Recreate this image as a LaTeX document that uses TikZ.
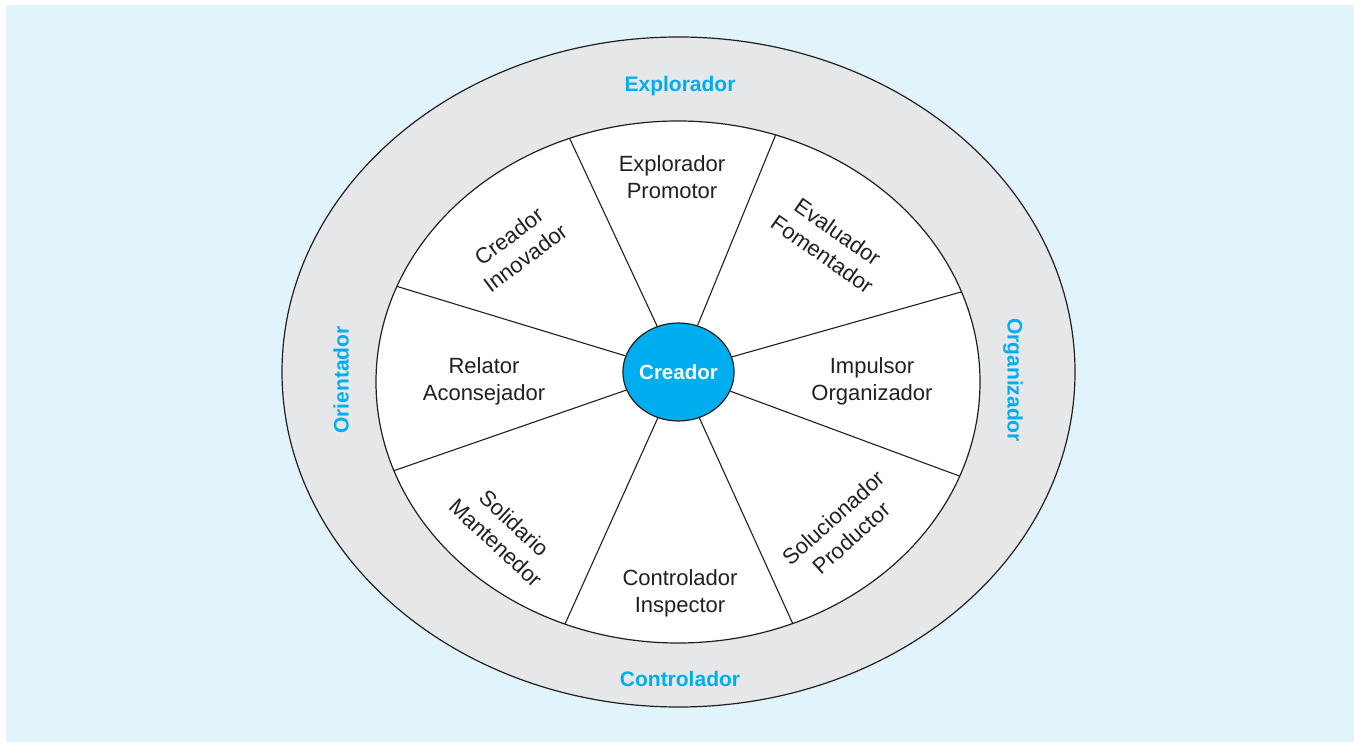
\documentclass[tikz,border=0pt]{standalone}
\usepackage{fontspec}
\setmainfont{Liberation Sans}
\usetikzlibrary{shapes.geometric}
\definecolor{paper}{HTML}{E1F4FB}
\definecolor{ring}{HTML}{E6E7E8}
\definecolor{cyan}{HTML}{00AEEF}
\definecolor{ink}{HTML}{231F20}

\begin{document}
\begin{tikzpicture}[
  x=1pt, y=1pt,
  rim/.style={draw=ink, line width=1.2pt},
  spoke/.style={draw=ink, line width=1.1pt},
  role/.style={text=ink, align=center, font=\fontsize{22}{27}\selectfont},
  group/.style={text=cyan, font=\fontsize{21}{25}\selectfont\bfseries},
  hub/.style={ellipse, rim, fill=cyan, inner sep=0pt, minimum width=111, minimum height=98, text=white, font=\fontsize{20.5}{24}\selectfont\bfseries}
]
\useasboundingbox (0,0) rectangle (1354,742);
\fill[white] (0,0) rectangle (1354,742);
\fill[paper] (6,0) rectangle (1354,737);

% outer ring and inner wheel
\draw[rim, fill=ring] (678.5,370) ellipse [x radius=396.5, y radius=335];
\fill[white] (678,360) ellipse [x radius=302, y radius=261];

\node[hub] (core) at (678.5,370) {Creador};

% spoke ends, a little past the wheel rim
\coordinate (e1) at (560.2,623.8);
\coordinate (e2) at (783.8,627);
\coordinate (e3) at (983.6,456.4);
\coordinate (e4) at (984.7,256.6);
\coordinate (e5) at (801.1,100);
\coordinate (e6) at (555.9,97.8);
\coordinate (e7) at (373.4,264.2);
\coordinate (e8) at (376.6,461.8);

\begin{scope}
  \clip (678,360) ellipse [x radius=302, y radius=261];
  \draw[spoke] (core) -- (e1);
  \draw[spoke] (core) -- (e2);
  \draw[spoke] (core) -- (e3);
  \draw[spoke] (core) -- (e4);
  \draw[spoke] (core) -- (e5);
  \draw[spoke] (core) -- (e6);
  \draw[spoke] (core) -- (e7);
  \draw[spoke] (core) -- (e8);
\end{scope}
\draw[rim] (678,360) ellipse [x radius=302, y radius=261];

% roles in the wheel
\node[role] (explprom) at (672,565) {Explorador\\Promotor};
\node[role, rotate=-35] (evalfom) at (830,499) {Evaluador\\Fomentador};
\node[role] (impulorg) at (872,361) {Impulsor\\Organizador};
\node[role, rotate=42] (soluprod) at (842,214) {Solucionador\\Productor};
\node[role] (contrinsp) at (680,149) {Controlador\\Inspector};
\node[role, rotate=-43] (solimant) at (505,209) {Solidario\\Mantenedor};
\node[role] (relacons) at (484,361) {Relator\\Aconsejador};
\node[role, rotate=37] (creainno) at (517,495) {Creador\\Innovador};

% groups on the ring
\node[group] (gexpl) at (680,656) {Explorador};
\node[group, rotate=-90] (gorga) at (1013,362) {Organizador};
\node[group] (gcont) at (680,63) {Controlador};
\node[group, rotate=90] (gorie) at (341,362) {Orientador};
\end{tikzpicture}
\end{document}
